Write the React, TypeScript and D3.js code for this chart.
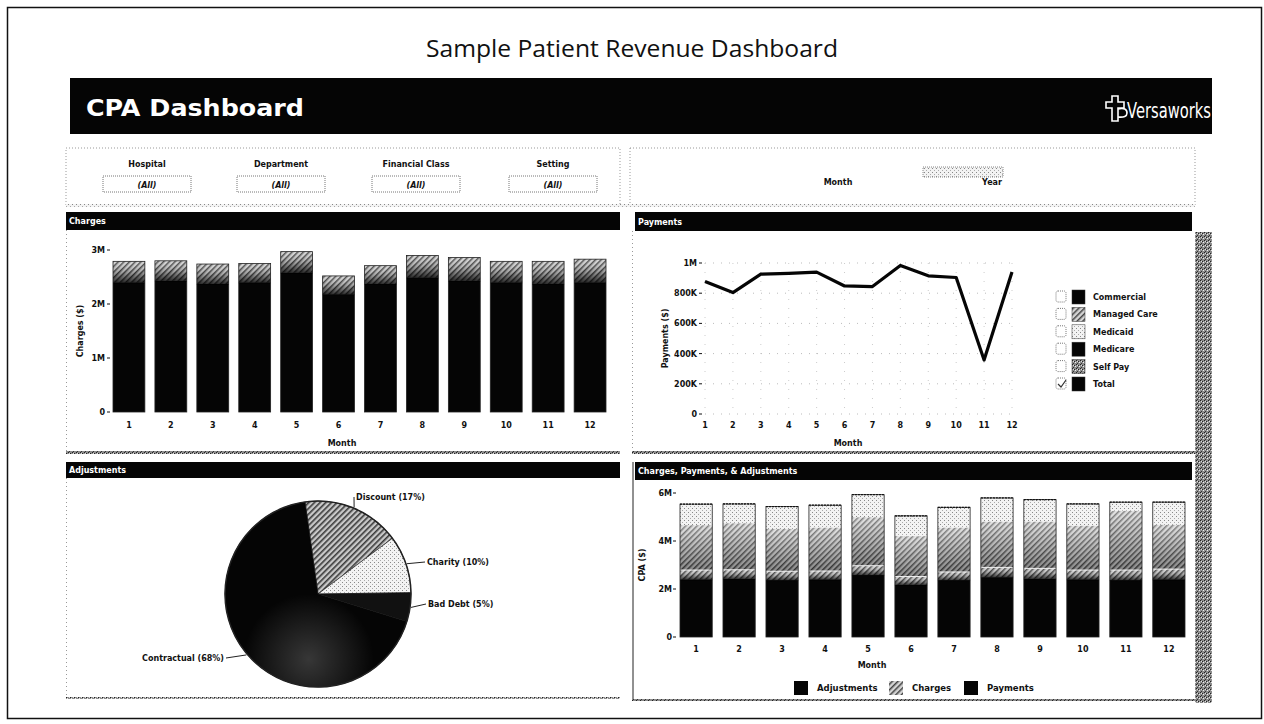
import React from 'react';
import * as d3 from 'd3';

// ---------- data ----------
const MONTHS = ['1', '2', '3', '4', '5', '6', '7', '8', '9', '10', '11', '12'];
// Charges ($M): solid lower part and hatched upper part
const CHARGES_BASE = [2.40, 2.43, 2.37, 2.40, 2.58, 2.18, 2.37, 2.49, 2.43, 2.40, 2.37, 2.40];
const CHARGES_UPPER = [0.39, 0.37, 0.37, 0.35, 0.39, 0.34, 0.34, 0.41, 0.43, 0.39, 0.42, 0.43];
// Payments ($K)
const PAYMENTS = [877, 804, 926, 931, 940, 848, 844, 984, 915, 904, 357, 940];
// Adjustments ($M) in the CPA chart
const CPA_ADJUSTMENTS = [1.87, 1.94, 1.77, 1.81, 2.02, 1.68, 1.85, 1.91, 1.95, 1.85, 2.47, 1.85];

const CHARGES_TICKS = [0, 1, 2, 3];
const CHARGES_TICK_LABELS = ['0', '1M', '2M', '3M'];
const PAYMENT_TICKS = [0, 200, 400, 600, 800, 1000];
const PAYMENT_TICK_LABELS = ['0', '200K', '400K', '600K', '800K', '1M'];
const CPA_TICKS = [0, 2, 4, 6];
const CPA_TICK_LABELS = ['0', '2M', '4M', '6M'];

const PAYER_CLASSES = ['Commercial', 'Managed Care', 'Medicaid', 'Medicare', 'Self Pay', 'Total'];
const PAYER_FILLS = ['#050505', 'url(#hatch)', 'url(#dots)', '#050505', 'url(#dither)', '#050505'];

const ADJ_TYPES = ['Discount', 'Charity', 'Bad Debt', 'Contractual'];
const ADJ_SHARES = [17, 10, 5, 68];
const ADJ_FILLS = ['url(#hatchPie)', 'url(#dots)', '#111', '#050505'];

const FILTERS = ['Hospital', 'Department', 'Financial Class', 'Setting'];
const CPA_SERIES = ['Adjustments', 'Charges', 'Payments'];

const F = '"DejaVu Sans", Verdana, sans-serif';

function PanelHeader({ x, y, w, h, title }: { x: number; y: number; w: number; h: number; title: string }) {
  return (
    <g>
      <rect x={x} y={y} width={w} height={h} fill="#050505" />
      <text x={x + 3} y={y + h / 2 + 3} fill="#fff" fontFamily={F} fontWeight="bold" fontSize={8}>
        {title}
      </text>
    </g>
  );
}

export default function App() {
  // Charges chart scales
  const cx = d3.scaleBand<string>().domain(MONTHS).range([113, 606]).paddingInner(0.24).paddingOuter(0);
  const cy = d3.scaleLinear().domain([0, 3]).range([412, 250]);
  // Payments chart scales
  const px = d3.scalePoint<string>().domain(MONTHS).range([705, 1012]);
  const py = d3.scaleLinear().domain([0, 1000]).range([414, 263]);
  const line = d3
    .line<number>()
    .x((_, i) => px(MONTHS[i])!)
    .y((d) => py(d));
  // CPA chart scales
  const bx = d3.scaleBand<string>().domain(MONTHS).range([680, 1185]).paddingInner(0.25).paddingOuter(0);
  const by = d3.scaleLinear().domain([0, 6]).range([637, 493]);
  // Pie
  const pieCx = 318;
  const pieCy = 594;
  const pieR = 93;
  const deg = Math.PI / 180;
  const pie = d3
    .pie<number>()
    .sort(null)
    .startAngle(-8 * deg)
    .endAngle(352 * deg);
  const arcs = pie(ADJ_SHARES);
  const arc = d3.arc<d3.PieArcDatum<number>>().innerRadius(0).outerRadius(pieR);
  const labelPos = [
    { x: 356, y: 500, anchor: 'start' },
    { x: 427, y: 565, anchor: 'start' },
    { x: 428, y: 607, anchor: 'start' },
    { x: 224, y: 661, anchor: 'end' },
  ];

  const filterCenters = [147, 281, 416, 553];

  return (
    <svg
      width={1264}
      height={724}
      style={{ position: 'absolute', left: 0, top: 0, background: '#fff' }}
      fontFamily={F}
    >
      <defs>
        <pattern id="hatch" width="4" height="4" patternUnits="userSpaceOnUse" patternTransform="rotate(45)">
          <rect width="4" height="4" fill="#d4d4d4" />
          <rect width="1.5" height="4" fill="#444" />
        </pattern>
        <pattern id="hatchPie" width="4" height="4" patternUnits="userSpaceOnUse" patternTransform="rotate(45)">
          <rect width="4" height="4" fill="#c8c8c8" />
          <rect width="1.6" height="4" fill="#3a3a3a" />
        </pattern>
        <pattern id="dots" width="4" height="4" patternUnits="userSpaceOnUse">
          <rect width="4" height="4" fill="#f3f3f3" />
          <rect x="0" y="0" width="1" height="1" fill="#888" />
          <rect x="2" y="2" width="1" height="1" fill="#aaa" />
        </pattern>
        <pattern id="dither" width="4" height="4" patternUnits="userSpaceOnUse">
          <rect width="4" height="4" fill="#8c8c8c" />
          <rect x="0" y="0" width="1" height="1" fill="#222" />
          <rect x="2" y="1" width="1" height="1" fill="#222" />
          <rect x="1" y="3" width="1" height="1" fill="#333" />
          <rect x="3" y="2" width="1" height="1" fill="#eee" />
          <rect x="1" y="1" width="1" height="1" fill="#ddd" />
        </pattern>
        <linearGradient id="fadeUp" x1="0" y1="1" x2="0" y2="0">
          <stop offset="0" stopColor="#000" stopOpacity="0.85" />
          <stop offset="0.5" stopColor="#000" stopOpacity="0.25" />
          <stop offset="1" stopColor="#fff" stopOpacity="0.1" />
        </linearGradient>
        <linearGradient id="fadeUp2" x1="0" y1="1" x2="0" y2="0">
          <stop offset="0" stopColor="#000" stopOpacity="0.35" />
          <stop offset="1" stopColor="#fff" stopOpacity="0.35" />
        </linearGradient>
        <radialGradient id="pieShine" cx="0.45" cy="0.85" r="0.35">
          <stop offset="0" stopColor="#fff" stopOpacity="0.2" />
          <stop offset="1" stopColor="#fff" stopOpacity="0" />
        </radialGradient>
      </defs>

      {/* outer frame */}
      <rect x={7.5} y={7.5} width={1254} height={711} fill="none" stroke="#111" strokeWidth={1.5} />
      <text x={632} y={57} textAnchor="middle" fontFamily='"Open Sans", "Liberation Sans", sans-serif' fontSize={23} fill="#111" textLength={412} lengthAdjust="spacingAndGlyphs">
        Sample Patient Revenue Dashboard
      </text>

      {/* banner */}
      <rect x={70} y={78} width={1142} height={56} fill="#050505" />
      <text x={86} y={116} fill="#fff" fontFamily={F} fontWeight="bold" fontSize={23} textLength={218} lengthAdjust="spacingAndGlyphs">
        CPA Dashboard
      </text>
      <g fill="none" stroke="#fff" strokeWidth={1.6}>
        <path d="M1112,96 h6 v6 h6 v6 h-6 v13 h-6 v-13 h-6 v-6 h6 z" />
        <path d="M1118,109 q9,-2 9,4 q0,5 -9,4" />
      </g>
      <text x={1127} y={118} fill="#fff" fontFamily={F} fontSize={21} textLength={84} lengthAdjust="spacingAndGlyphs">
        Versaworks
      </text>

      {/* filter boxes */}
      <rect x={66} y={148} width={554} height={58} fill="none" stroke="#999" strokeDasharray="1,2" />
      <rect x={630} y={148} width={565} height={58} fill="none" stroke="#999" strokeDasharray="1,2" />
      <rect x={66} y={204} width={1129} height={3} fill="url(#dots)" />
      {FILTERS.map((f, i) => (
        <g key={f}>
          <text x={filterCenters[i]} y={167} textAnchor="middle" fontWeight="bold" fontSize={8} fill="#111">
            {f}
          </text>
          <rect x={filterCenters[i] - 44} y={176} width={88} height={16} fill="#fff" stroke="#777" strokeDasharray="1,1" />
          <text x={filterCenters[i]} y={188} textAnchor="middle" fontWeight="bold" fontStyle="italic" fontSize={8} fill="#111">
            (All)
          </text>
        </g>
      ))}
      <text x={838} y={185} textAnchor="middle" fontWeight="bold" fontSize={8} fill="#111">
        Month
      </text>
      <rect x={923} y={167} width={80} height={10} fill="url(#dots)" stroke="#888" strokeDasharray="1,1" />
      <text x={992} y={185} textAnchor="middle" fontWeight="bold" fontSize={8} fill="#111">
        Year
      </text>

      {/* right dithered strip */}
      <rect x={1195} y={232} width={17} height={471} fill="url(#dither)" />

      {/* ---------- Charges panel ---------- */}
      <PanelHeader x={66} y={212} w={554} h={18} title="Charges" />
      <line x1={66.5} y1={230} x2={66.5} y2={452} stroke="#999" strokeDasharray="1,3" />
      <rect x={66} y={451} width={554} height={3} fill="url(#dither)" />
      {CHARGES_TICKS.map((t, i) => (
        <g key={t}>
          <text x={105} y={cy(t) + 3} textAnchor="end" fontWeight="bold" fontSize={8} fill="#111">
            {CHARGES_TICK_LABELS[i]}
          </text>
          <line x1={107} x2={110} y1={cy(t)} y2={cy(t)} stroke="#111" />
        </g>
      ))}
      <text transform={`translate(83,${(cy(0) + cy(3)) / 2}) rotate(-90)`} textAnchor="middle" fontWeight="bold" fontSize={8} fill="#111">
        Charges ($)
      </text>
      {MONTHS.map((m, i) => {
        const x = cx(m)!;
        const w = cx.bandwidth();
        const y0 = cy(0);
        const y1 = cy(CHARGES_BASE[i]);
        const y2 = cy(CHARGES_BASE[i] + CHARGES_UPPER[i]);
        return (
          <g key={m}>
            <rect x={x} y={y1} width={w} height={y0 - y1} fill="#050505" />
            <rect x={x} y={y2} width={w} height={y1 - y2} fill="url(#hatch)" />
            <rect x={x} y={y2} width={w} height={y1 - y2 + 1} fill="url(#fadeUp)" />
            <rect x={x} y={y2} width={w} height={y0 - y2} fill="none" stroke="#222" strokeWidth={0.8} />
            <text x={x + w / 2} y={428} textAnchor="middle" fontWeight="bold" fontSize={8} fill="#111">
              {m}
            </text>
          </g>
        );
      })}
      <text x={342} y={446} textAnchor="middle" fontWeight="bold" fontSize={8} fill="#111">
        Month
      </text>

      {/* ---------- Payments panel ---------- */}
      <PanelHeader x={635} y={212} w={557} h={19} title="Payments" />
      <line x1={632.5} y1={231} x2={632.5} y2={452} stroke="#999" strokeDasharray="1,3" />
      <rect x={632} y={451} width={563} height={3} fill="url(#dither)" />
      {PAYMENT_TICKS.map((t, i) => (
        <g key={t}>
          <line x1={705} x2={1012} y1={py(t)} y2={py(t)} stroke="#bbb" strokeDasharray="1,7" />
          <text x={697} y={py(t) + 3} textAnchor="end" fontWeight="bold" fontSize={8} fill="#111">
            {PAYMENT_TICK_LABELS[i]}
          </text>
          <line x1={699} x2={702} y1={py(t)} y2={py(t)} stroke="#111" />
        </g>
      ))}
      {MONTHS.map((m) => (
        <g key={m}>
          <line x1={px(m)} x2={px(m)} y1={263} y2={414} stroke="#ccc" strokeDasharray="1,8" />
          <text x={px(m)} y={428} textAnchor="middle" fontWeight="bold" fontSize={8} fill="#111">
            {m}
          </text>
        </g>
      ))}
      <text transform={`translate(668,${(py(0) + py(1000)) / 2}) rotate(-90)`} textAnchor="middle" fontWeight="bold" fontSize={8} fill="#111">
        Payments ($)
      </text>
      <path d={line(PAYMENTS)!} fill="none" stroke="#050505" strokeWidth={3.2} strokeLinejoin="round" />
      <text x={848} y={446} textAnchor="middle" fontWeight="bold" fontSize={8} fill="#111">
        Month
      </text>
      {PAYER_CLASSES.map((p, i) => {
        const y = 297 + i * 17.4;
        return (
          <g key={p}>
            <rect x={1056} y={y - 6} width={10} height={11} fill="#fff" stroke="#777" strokeDasharray="1,1" rx={2} />
            {p === 'Total' && <path d={`M1058,${y} l3,3 l5,-7`} fill="none" stroke="#333" strokeWidth={1.2} />}
            <rect x={1072} y={y - 7} width={13} height={14} fill={PAYER_FILLS[i]} stroke="#333" strokeWidth={0.5} />
            <text x={1093} y={y + 3} fontWeight="bold" fontSize={8} fill="#111">
              {p}
            </text>
          </g>
        );
      })}

      {/* ---------- Adjustments panel ---------- */}
      <PanelHeader x={66} y={462} w={554} h={16} title="Adjustments" />
      <line x1={66.5} y1={478} x2={66.5} y2={698} stroke="#999" strokeDasharray="1,3" />
      <rect x={66} y={697} width={554} height={2} fill="url(#dither)" />
      <g transform={`translate(${pieCx},${pieCy})`}>
        {arcs.map((a, i) => (
          <path key={ADJ_TYPES[i]} d={arc(a)!} fill={ADJ_FILLS[i]} stroke="#111" strokeWidth={0.6} />
        ))}
        <circle r={pieR} fill="url(#pieShine)" />
        <circle r={pieR} fill="none" stroke="#222" strokeWidth={1.5} />
      </g>
      {arcs.map((a, i) => {
        const mid = (a.startAngle + a.endAngle) / 2;
        const ex = pieCx + Math.sin(mid) * (pieR + 1);
        const ey = pieCy - Math.cos(mid) * (pieR + 1);
        const lp = labelPos[i];
        const tx = lp.anchor === 'start' ? lp.x - 2 : lp.x + 2;
        return (
          <g key={ADJ_TYPES[i]}>
            <line x1={ex} y1={ey} x2={tx} y2={lp.y - 3} stroke="#222" strokeWidth={1} />
            <text x={lp.x} y={lp.y} textAnchor={lp.anchor as any} fontWeight="bold" fontSize={8} fill="#111">
              {`${ADJ_TYPES[i]} (${ADJ_SHARES[i]}%)`}
            </text>
          </g>
        );
      })}

      {/* ---------- CPA panel ---------- */}
      <PanelHeader x={635} y={462} w={557} h={18} title="Charges, Payments, & Adjustments" />
      <line x1={633} y1={462} x2={633} y2={700} stroke="#222" strokeWidth={1} />
      <rect x={632} y={699} width={563} height={2} fill="url(#dither)" />
      {CPA_TICKS.map((t, i) => (
        <g key={t}>
          <text x={672} y={by(t) + 3} textAnchor="end" fontWeight="bold" fontSize={8} fill="#111">
            {CPA_TICK_LABELS[i]}
          </text>
          <line x1={673} x2={676} y1={by(t)} y2={by(t)} stroke="#111" />
        </g>
      ))}
      <text transform={`translate(645,${(by(0) + by(6)) / 2}) rotate(-90)`} textAnchor="middle" fontWeight="bold" fontSize={8} fill="#111">
        CPA ($)
      </text>
      {MONTHS.map((m, i) => {
        const x = bx(m)!;
        const w = bx.bandwidth();
        const cBase = CHARGES_BASE[i];
        const cTot = CHARGES_BASE[i] + CHARGES_UPPER[i];
        const aTot = cTot + CPA_ADJUSTMENTS[i];
        const pTot = aTot + PAYMENTS[i] / 1000;
        return (
          <g key={m}>
            <rect x={x} y={by(cBase)} width={w} height={by(0) - by(cBase)} fill="#050505" />
            <rect x={x} y={by(cTot)} width={w} height={by(cBase) - by(cTot)} fill="url(#hatch)" />
            <rect x={x} y={by(cTot)} width={w} height={by(cBase) - by(cTot) + 1} fill="url(#fadeUp)" />
            <rect x={x} y={by(aTot)} width={w} height={by(cTot) - by(aTot)} fill="url(#hatch)" />
            <rect x={x} y={by(aTot)} width={w} height={by(cTot) - by(aTot)} fill="url(#fadeUp2)" />
            <rect x={x} y={by(pTot)} width={w} height={by(aTot) - by(pTot)} fill="url(#dots)" />
            <line x1={x} x2={x + w} y1={by(cTot)} y2={by(cTot)} stroke="#eee" strokeWidth={1} />
            <rect x={x} y={by(pTot)} width={w} height={by(0) - by(pTot)} fill="none" stroke="#222" strokeWidth={0.8} />
            <line x1={x} x2={x + w} y1={by(pTot)} y2={by(pTot)} stroke="#111" strokeWidth={1.2} strokeDasharray="2,1" />
            <text x={x + w / 2} y={652} textAnchor="middle" fontWeight="bold" fontSize={8} fill="#111">
              {m}
            </text>
          </g>
        );
      })}
      <text x={872} y={668} textAnchor="middle" fontWeight="bold" fontSize={8} fill="#111">
        Month
      </text>
      {CPA_SERIES.map((s, i) => {
        const sx = [794, 889, 964][i];
        return (
          <g key={s}>
            <rect x={sx} y={681} width={14} height={14} fill={s === 'Charges' ? 'url(#hatch)' : '#050505'} />
            <text x={sx + 23} y={691} fontWeight="bold" fontSize={8.5} fill="#111">
              {s}
            </text>
          </g>
        );
      })}
    </svg>
  );
}
